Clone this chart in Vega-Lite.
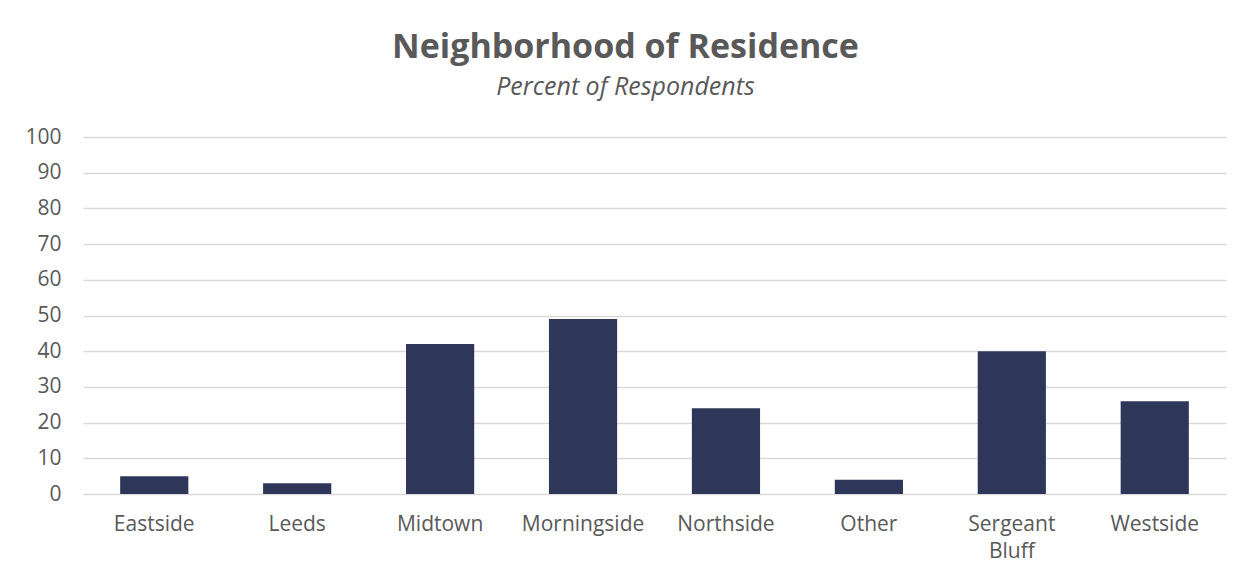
{
  "$schema": "https://vega.github.io/schema/vega-lite/v6.json",
  "width": 1143,
  "height": 357,
  "padding": {"left": 24, "top": 31, "right": 27, "bottom": 10},
  "background": "white",
  "title": {
    "text": "Neighborhood of Residence",
    "subtitle": "Percent of Respondents",
    "anchor": "middle",
    "frame": "bounds",
    "font": "Open Sans",
    "fontSize": 34,
    "fontWeight": "bold",
    "color": "#595959",
    "subtitleFont": "Open Sans",
    "subtitleFontSize": 25,
    "subtitleFontStyle": "italic",
    "subtitleColor": "#595959",
    "subtitlePadding": 10,
    "offset": 26
  },
  "data": {
    "values": [
      {"neighborhood": "Eastside", "percent": 5},
      {"neighborhood": "Leeds", "percent": 3},
      {"neighborhood": "Midtown", "percent": 42},
      {"neighborhood": "Morningside", "percent": 49},
      {"neighborhood": "Northside", "percent": 24},
      {"neighborhood": "Other", "percent": 4},
      {"neighborhood": "Sergeant Bluff", "percent": 40},
      {"neighborhood": "Westside", "percent": 26}
    ]
  },
  "mark": {"type": "bar", "color": "#2E3759"},
  "encoding": {
    "x": {
      "field": "neighborhood",
      "type": "nominal",
      "sort": null,
      "scale": {"paddingInner": 0.523, "paddingOuter": 0.26},
      "axis": {
        "title": null,
        "labelAngle": 0,
        "labelFont": "Open Sans",
        "labelFontSize": 21,
        "labelColor": "#595959",
        "labelPadding": 19,
        "labelLineHeight": 27,
        "labelExpr": "datum.value == 'Sergeant Bluff' ? ['Sergeant', 'Bluff'] : datum.value",
        "domain": false,
        "ticks": false
      }
    },
    "y": {
      "field": "percent",
      "type": "quantitative",
      "scale": {"domain": [0, 100]},
      "axis": {
        "title": null,
        "values": [0, 10, 20, 30, 40, 50, 60, 70, 80, 90, 100],
        "labelFont": "Open Sans",
        "labelFontSize": 21,
        "labelColor": "#595959",
        "labelPadding": 22,
        "domain": false,
        "ticks": false,
        "gridColor": "#d9d9d9",
        "gridWidth": 1.5
      }
    }
  },
  "config": {"view": {"stroke": null}}
}
